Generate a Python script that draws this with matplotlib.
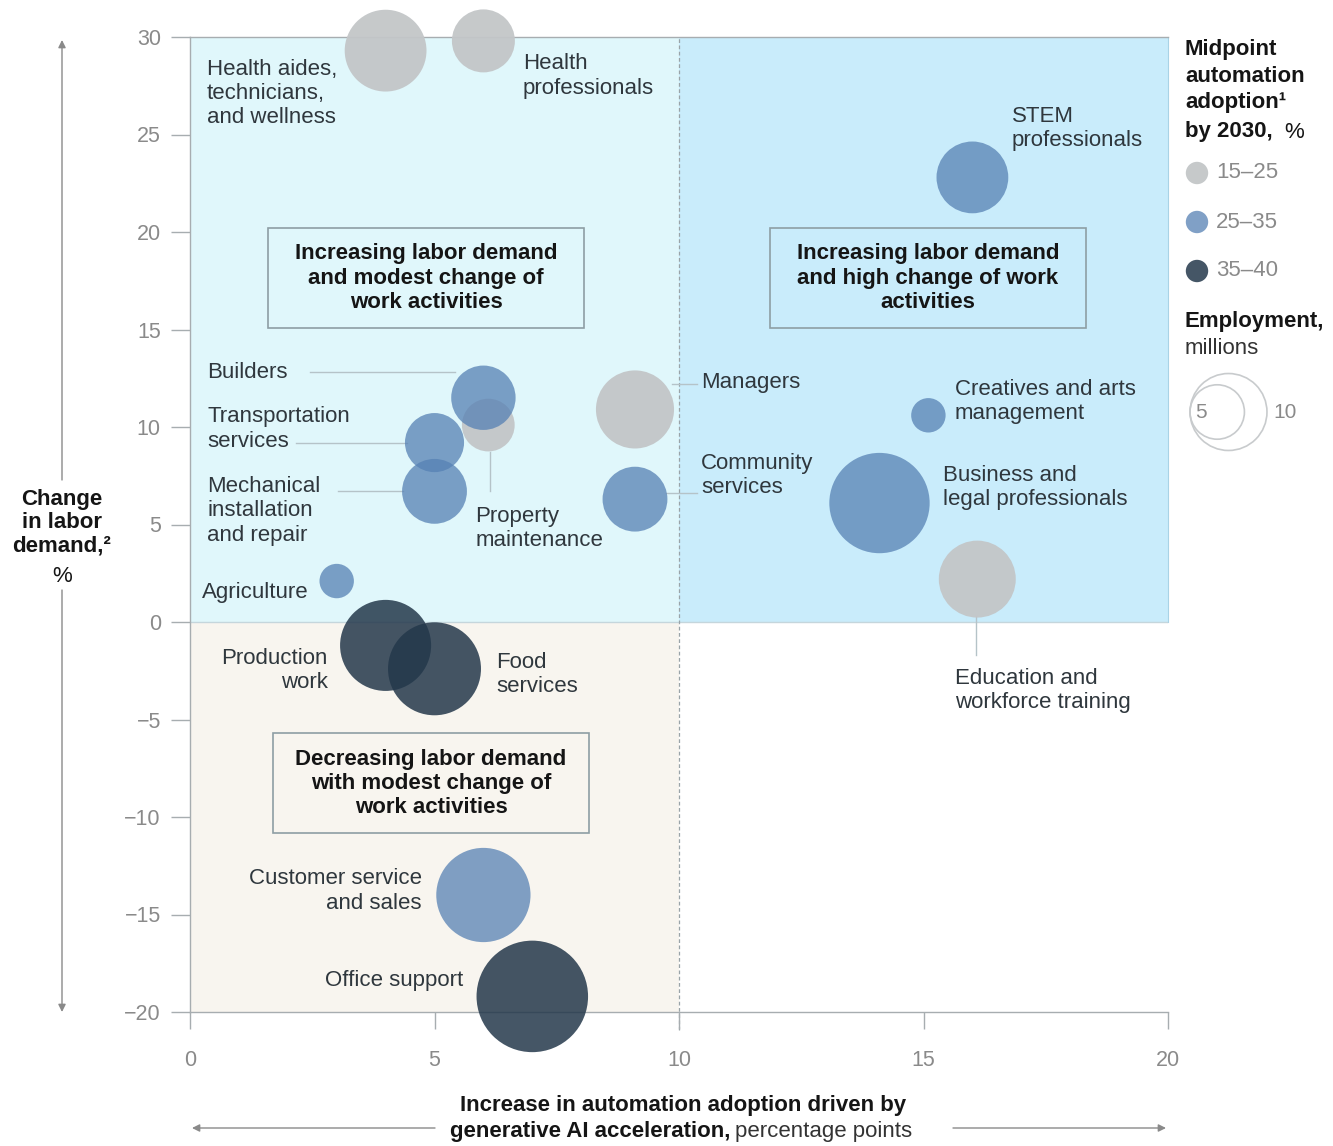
import numpy as np
import matplotlib
matplotlib.use('Agg')
import matplotlib.pyplot as plt
from matplotlib.patches import Rectangle

plt.rcParams['font.family'] = ['Liberation Sans', 'DejaVu Sans']

# data
occupations = ['Health aides, technicians, and wellness', 'Health professionals', 'STEM professionals',
               'Builders', 'Property maintenance', 'Transportation services',
               'Mechanical installation and repair', 'Managers', 'Community services',
               'Creatives and arts management', 'Business and legal professionals',
               'Education and workforce training', 'Agriculture', 'Production work',
               'Food services', 'Customer service and sales', 'Office support']
automation_gain = [4.0, 6.0, 16.0, 6.0, 6.1, 5.0, 5.0, 9.1, 9.1, 15.1, 14.1, 16.1, 3.0, 4.0, 5.0, 6.0, 7.0]
demand_change = [29.3, 29.8, 22.8, 11.5, 10.1, 9.2, 6.7, 10.9, 6.3, 10.6, 6.1, 2.2, 2.1, -1.2, -2.4, -14.0, -19.2]
employment = [11.3, 6.7, 8.7, 7.0, 4.7, 5.9, 7.1, 10.3, 7.1, 2.0, 17.0, 10.0, 2.0, 14.0, 14.6, 15.0, 21.0]
adoption_band = ['15–25', '15–25', '25–35', '25–35', '15–25', '25–35', '25–35', '15–25', '25–35',
                 '25–35', '25–35', '15–25', '25–35', '35–40', '35–40', '25–35', '35–40']
bands = ['15–25', '25–35', '35–40']
legend_sizes = [10, 5]
x_ticks = [0, 5, 10, 15, 20]
y_ticks = [-20, -15, -10, -5, 0, 5, 10, 15, 20, 25, 30]

band_color = {'15–25': '#c3c6c8', '25–35': '#5681b4', '35–40': '#24384b'}
band_alpha = {'15–25': 0.95, '25–35': 0.75, '35–40': 0.85}
size_k = 307.0  # scatter area per million employed
FS = 16

W, H = 1333, 1146
fig = plt.figure(figsize=(W / 100, H / 100), dpi=100, facecolor='white')
ax = fig.add_axes([190 / W, 1 - 1012 / H, 978 / W, 975 / H])
ax.set_xlim(0, 20); ax.set_ylim(-20, 30)

# quadrants
ax.add_patch(Rectangle((0, 0), 10, 30, fc='#e0f7fb', ec='none', zorder=0))
ax.add_patch(Rectangle((10, 0), 10, 30, fc='#c9ecfb', ec='none', zorder=0))
ax.add_patch(Rectangle((0, -20), 10, 20, fc='#f8f5ef', ec='none', zorder=0))
ax.axhline(0, color='#c5d6dc', lw=1, zorder=1)
ax.axvline(10, ymin=-0.018, ymax=1, color='#9aa4a8', lw=0.9, ls=(0, (3, 2)), zorder=1, clip_on=False)

for sp in ['left', 'bottom', 'top']:
    ax.spines[sp].set_color('#a7adb0'); ax.spines[sp].set_linewidth(1)
ax.spines['right'].set_bounds(0, 30); ax.spines['right'].set_color('#a9d3e6')
ax.set_xticks(x_ticks); ax.set_yticks(y_ticks)
ax.set_yticklabels([str(v).replace('-', '\u2212') for v in y_ticks])
ax.tick_params(axis='y', length=14, width=1, color='#a7adb0', pad=7, labelsize=15.5, labelcolor='#8a8a8a')
ax.tick_params(axis='x', length=12, width=1, color='#a7adb0', pad=15, labelsize=15.5, labelcolor='#8a8a8a')

# bubbles
for b in bands:
    idx = [i for i, a in enumerate(adoption_band) if a == b]
    ax.scatter([automation_gain[i] for i in idx], [demand_change[i] for i in idx],
               s=[employment[i] * size_k for i in idx], c=band_color[b], alpha=band_alpha[b],
               edgecolors='none', zorder=3, clip_on=False)

# labels: text, x, y, ha
lab_kw = dict(fontsize=FS, color='#2f373d', va='center', linespacing=1.2, zorder=5)
labels = [
    ('Health aides,\ntechnicians,\nand wellness', 0.35, 27.1, 'left'),
    ('Health\nprofessionals', 6.81, 28.0, 'left'),
    ('STEM\nprofessionals', 16.81, 25.3, 'left'),
    ('Builders', 0.35, 12.8, 'left'),
    ('Transportation\nservices', 0.35, 9.9, 'left'),
    ('Mechanical\ninstallation\nand repair', 0.35, 5.7, 'left'),
    ('Property\nmaintenance', 5.83, 4.8, 'left'),
    ('Managers', 10.45, 12.3, 'left'),
    ('Community\nservices', 10.45, 7.5, 'left'),
    ('Creatives and arts\nmanagement', 15.64, 11.3, 'left'),
    ('Business and\nlegal professionals', 15.40, 6.9, 'left'),
    ('Education and\nworkforce training', 15.64, -3.5, 'left'),
    ('Agriculture', 0.25, 1.5, 'left'),
    ('Production\nwork', 2.82, -2.5, 'right'),
    ('Food\nservices', 6.26, -2.7, 'left'),
    ('Customer service\nand sales', 4.74, -13.8, 'right'),
    ('Office support', 5.58, -18.4, 'right'),
]
for t, x, y, ha in labels:
    ax.text(x, y, t, ha=ha, **lab_kw)

# leader lines
leaders = [((2.45, 5.42), (12.8, 12.8)), ((2.17, 4.44), (9.2, 9.2)), ((3.03, 4.36), (6.7, 6.7)),
           ((6.13, 6.13), (8.7, 6.7)), ((9.86, 10.37), (12.2, 12.2)), ((9.73, 10.37), (6.6, 6.6)),
           ((16.07, 16.07), (0.3, -1.7))]
for xs, ys in leaders:
    ax.plot(xs, ys, color='#b5c3c8', lw=1, zorder=2)

# quadrant boxes
quads = [('Increasing labor demand\nand modest change of\nwork activities', 4.83, 17.64, 6.46),
         ('Increasing labor demand\nand high change of work\nactivities', 15.09, 17.64, 6.46),
         ('Decreasing labor demand\nwith modest change of\nwork activities', 4.93, -8.28, 6.46)]
for t, x, y, w in quads:
    ax.add_patch(Rectangle((x - w / 2, y - 2.56), w, 5.13, fc='none', ec='#8e9ea4', lw=1.2, zorder=4))
    ax.text(x, y, t, ha='center', va='center', fontsize=FS, fontweight='bold', color='#151515',
            linespacing=1.2, zorder=5)

# overlay in pixel coordinates for axis titles and legend
ov = fig.add_axes([0, 0, 1, 1])
ov.set_xlim(0, W); ov.set_ylim(H, 0); ov.axis('off')
arr = dict(arrowstyle='-|>', color='#8a8a8a', lw=1, mutation_scale=11, shrinkA=0, shrinkB=0)
ov.annotate('', xy=(62, 40), xytext=(62, 480), arrowprops=arr)
ov.annotate('', xy=(62, 1012), xytext=(62, 590), arrowprops=arr)
ov.text(62, 523, 'Change\nin labor\ndemand,\u00b2', ha='center', va='center', fontsize=FS,
        fontweight='bold', color='#151515', linespacing=1.15)
ov.text(62, 576, '%', ha='center', va='center', fontsize=FS, color='#151515')

ov.annotate('', xy=(192, 1128), xytext=(435, 1128), arrowprops=arr)
ov.annotate('', xy=(1166, 1128), xytext=(953, 1128), arrowprops=arr)
ov.text(683, 1105, 'Increase in automation adoption driven by', ha='center', va='center',
        fontsize=FS, fontweight='bold', color='#151515')
ov.text(730, 1131, 'generative AI acceleration,', ha='right', va='center',
        fontsize=FS, fontweight='bold', color='#151515')
ov.text(735, 1131, 'percentage points', ha='left', va='center', fontsize=FS, color='#333')

# legend
ov.text(1185, 76, 'Midpoint\nautomation\nadoption\u00b9', ha='left', va='center', fontsize=FS,
        fontweight='bold', color='#151515', linespacing=1.33)
ov.text(1185, 132, 'by 2030,', ha='left', va='center', fontsize=FS, fontweight='bold', color='#151515')
ov.text(1284, 132, '%', ha='left', va='center', fontsize=FS, color='#151515')
for k, b in enumerate(bands):
    yy = 173 + 49 * k
    ov.scatter([1197], [yy], s=260, c=band_color[b], alpha=band_alpha[b], edgecolors='none')
    ov.text(1216, yy, b, ha='left', va='center', fontsize=FS, color='#8a8a8a')
ov.text(1185, 322, 'Employment,', ha='left', va='center', fontsize=FS, fontweight='bold', color='#151515')
ov.text(1185, 349, 'millions', ha='left', va='center', fontsize=FS, color='#333')
for e in legend_sizes:
    r = 38.5 * np.sqrt(e / 10)
    ov.scatter([1190 + r], [412], s=e * size_k, facecolors='none', edgecolors='#c8cbcd', lw=1.2)
ov.text(1201, 412, '5', ha='center', va='center', fontsize=15, color='#8a8a8a')
ov.text(1285, 412, '10', ha='center', va='center', fontsize=15, color='#8a8a8a')

fig.savefig('out.png', dpi=100)
